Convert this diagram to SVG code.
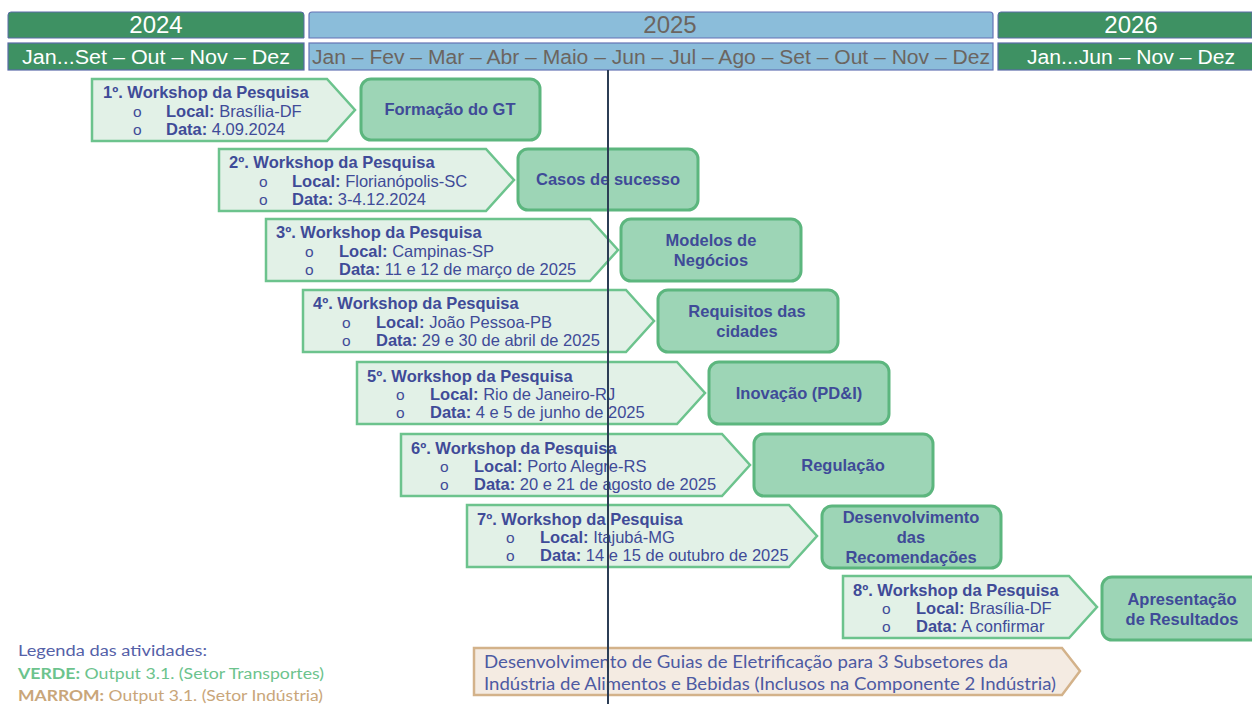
<svg xmlns="http://www.w3.org/2000/svg" width="1252" height="704" viewBox="0 0 1252 704">
<style>
.ws{fill:#e2f1e7;stroke:#6cc38d;stroke-width:2.5}
.bx{fill:#9dd5b6;stroke:#5cb67e;stroke-width:3}
.t{font-family:"Liberation Sans",Arial,sans-serif;fill:#3f4b98}
.tt{font-size:16.5px;font-weight:bold}
.tl{font-size:16.5px}
.b{font-weight:bold}
.bul{font-size:15.5px}
.bt{font-family:"Liberation Sans",Arial,sans-serif;fill:#3f4b98;font-size:16.5px;font-weight:bold;text-anchor:middle}
.hdr{font-family:"Liberation Sans",Arial,sans-serif;text-anchor:middle}
.lg{font-family:Lato,"Open Sans",sans-serif;font-size:15.5px}
</style>
<rect width="1252" height="704" fill="#ffffff"/>

<g id="header">
  <path d="M8,38 V15 Q8,12 11,12 H301 Q304,12 304,15 V38 Z" fill="#3e9163" stroke="#5a6aa8" stroke-width="1"/>
  <path d="M309,38 V15 Q309,12 312,12 H990 Q993,12 993,15 V38 Z" fill="#8bbdda" stroke="#6473b5" stroke-width="1.2"/>
  <path d="M998,38 V15 Q998,12 1001,12 H1252 V38 Z" fill="#3e9163" stroke="#5a6aa8" stroke-width="1"/>
  <text class="hdr" x="156" y="33" font-size="24" fill="#ffffff">2024</text>
  <text class="hdr" x="670" y="33" font-size="24" fill="#6b6560">2025</text>
  <text class="hdr" x="1131" y="33" font-size="24" fill="#ffffff">2026</text>
  <rect x="8" y="43" width="296" height="27" fill="#3e9163" stroke="#5a6aa8" stroke-width="1.2"/>
  <rect x="309" y="43" width="684" height="27" fill="#8bbdda" stroke="#6473b5" stroke-width="1.2"/>
  <rect x="998" y="43" width="258" height="27" fill="#3e9163" stroke="#5a6aa8" stroke-width="1.2"/>
  <text class="hdr" x="156" y="64" font-size="19.5" fill="#ffffff" textLength="268" lengthAdjust="spacingAndGlyphs">Jan...Set – Out – Nov – Dez</text>
  <text class="hdr" x="651" y="64" font-size="19.5" fill="#6b6560" textLength="678" lengthAdjust="spacingAndGlyphs">Jan – Fev – Mar – Abr – Maio – Jun – Jul – Ago – Set – Out – Nov – Dez</text>
  <text class="hdr" x="1131" y="64" font-size="19.5" fill="#ffffff" textLength="208" lengthAdjust="spacingAndGlyphs">Jan...Jun – Nov – Dez</text>
</g>

<g id="ws1">
  <path class="ws" d="M92,79 H327 L355,110 L327,141 H92 Z"/>
  <text class="t tt" x="103" y="98">1º. Workshop da Pesquisa</text>
  <text class="t bul" x="133" y="117">o</text><text class="t tl" x="166" y="117"><tspan class="b">Local:</tspan> Brasília-DF</text>
  <text class="t bul" x="133" y="135">o</text><text class="t tl" x="166" y="135"><tspan class="b">Data:</tspan> 4.09.2024</text>
</g>
<g id="n1"><rect class="bx" x="361" y="79" width="179" height="61" rx="10"/><text class="bt" x="450" y="115">Formação do GT</text></g>

<g id="ws2">
  <path class="ws" d="M219,149 H486 L514,180 L486,211 H219 Z"/>
  <text class="t tt" x="229" y="168">2º. Workshop da Pesquisa</text>
  <text class="t bul" x="259" y="187">o</text><text class="t tl" x="292" y="187"><tspan class="b">Local:</tspan> Florianópolis-SC</text>
  <text class="t bul" x="259" y="205">o</text><text class="t tl" x="292" y="205"><tspan class="b">Data:</tspan> 3-4.12.2024</text>
</g>
<g id="n2"><rect class="bx" x="518" y="149" width="180" height="61" rx="10"/><text class="bt" x="608" y="185">Casos de sucesso</text></g>

<g id="ws3">
  <path class="ws" d="M266,219 H590 L618,250 L590,281 H266 Z"/>
  <text class="t tt" x="276" y="238">3º. Workshop da Pesquisa</text>
  <text class="t bul" x="305" y="257">o</text><text class="t tl" x="339" y="257"><tspan class="b">Local:</tspan> Campinas-SP</text>
  <text class="t bul" x="305" y="275">o</text><text class="t tl" x="339" y="275"><tspan class="b">Data:</tspan> 11 e 12 de março de 2025</text>
</g>
<g id="n3"><rect class="bx" x="621" y="219" width="180" height="62" rx="10"/><text class="bt" x="711" y="246">Modelos de</text><text class="bt" x="711" y="266">Negócios</text></g>

<g id="ws4">
  <path class="ws" d="M303,290 H626 L654,321 L626,352 H303 Z"/>
  <text class="t tt" x="313" y="309">4º. Workshop da Pesquisa</text>
  <text class="t bul" x="342" y="328">o</text><text class="t tl" x="376" y="328"><tspan class="b">Local:</tspan> João Pessoa-PB</text>
  <text class="t bul" x="342" y="346">o</text><text class="t tl" x="376" y="346"><tspan class="b">Data:</tspan> 29 e 30 de abril de 2025</text>
</g>
<g id="n4"><rect class="bx" x="658" y="290" width="180" height="62" rx="10"/><text class="bt" x="747" y="317">Requisitos das</text><text class="bt" x="747" y="337">cidades</text></g>

<g id="ws5">
  <path class="ws" d="M357,362 H677 L705,393 L677,424 H357 Z"/>
  <text class="t tt" x="367" y="382">5º. Workshop da Pesquisa</text>
  <text class="t bul" x="396" y="400">o</text><text class="t tl" x="430" y="400"><tspan class="b">Local:</tspan> Rio de Janeiro-RJ</text>
  <text class="t bul" x="396" y="418">o</text><text class="t tl" x="430" y="418"><tspan class="b">Data:</tspan> 4 e 5 de junho de 2025</text>
</g>
<g id="n5"><rect class="bx" x="709" y="362" width="180" height="62" rx="10"/><text class="bt" x="799" y="399">Inovação (PD&amp;I)</text></g>

<g id="ws6">
  <path class="ws" d="M401,434 H722 L750,465 L722,496 H401 Z"/>
  <text class="t tt" x="411" y="454">6º. Workshop da Pesquisa</text>
  <text class="t bul" x="440" y="472">o</text><text class="t tl" x="474" y="472"><tspan class="b">Local:</tspan> Porto Alegre-RS</text>
  <text class="t bul" x="440" y="490">o</text><text class="t tl" x="474" y="490"><tspan class="b">Data:</tspan> 20 e 21 de agosto de 2025</text>
</g>
<g id="n6"><rect class="bx" x="754" y="434" width="179" height="62" rx="10"/><text class="bt" x="843" y="471">Regulação</text></g>

<g id="ws7">
  <path class="ws" d="M467,505 H789 L817,536 L789,567 H467 Z"/>
  <text class="t tt" x="477" y="525">7º. Workshop da Pesquisa</text>
  <text class="t bul" x="506" y="543">o</text><text class="t tl" x="540" y="543"><tspan class="b">Local:</tspan> Itajubá-MG</text>
  <text class="t bul" x="506" y="561">o</text><text class="t tl" x="540" y="561"><tspan class="b">Data:</tspan> 14 e 15 de outubro de 2025</text>
</g>
<g id="n7"><rect class="bx" x="822" y="506" width="179" height="62" rx="10"/><text class="bt" x="911" y="523">Desenvolvimento</text><text class="bt" x="911" y="543">das</text><text class="bt" x="911" y="563">Recomendações</text></g>

<g id="ws8">
  <path class="ws" d="M843,576 H1069 L1097,607 L1069,638 H843 Z"/>
  <text class="t tt" x="853" y="596">8º. Workshop da Pesquisa</text>
  <text class="t bul" x="882" y="614">o</text><text class="t tl" x="916" y="614"><tspan class="b">Local:</tspan> Brasília-DF</text>
  <text class="t bul" x="882" y="632">o</text><text class="t tl" x="916" y="632"><tspan class="b">Data:</tspan> A confirmar</text>
</g>
<g id="n8"><rect class="bx" x="1102" y="577" width="170" height="63" rx="10"/><text class="bt" x="1182" y="605">Apresentação</text><text class="bt" x="1182" y="625">de Resultados</text></g>

<g id="industria">
  <path d="M474,648 H1062 L1080,671 L1062,695 H474 Z" fill="#f4ebe2" stroke="#d3b28a" stroke-width="2.5"/>
  <text font-family="Lato,'Open Sans',sans-serif" font-size="16.5" fill="#4d5aa2" x="484" y="668" textLength="524" lengthAdjust="spacingAndGlyphs">Desenvolvimento de Guias de Eletrificação para 3 Subsetores da</text>
  <text font-family="Lato,'Open Sans',sans-serif" font-size="16.5" fill="#4d5aa2" x="484" y="690" textLength="572" lengthAdjust="spacingAndGlyphs">Indústria de Alimentos e Bebidas (Inclusos na Componente 2 Indústria)</text>
</g>

<g id="connectors">
  <line x1="608" y1="70" x2="608" y2="704" stroke="#2c3d55" stroke-width="2"/>
</g>

<g id="legenda">
  <text class="lg" x="18" y="656" fill="#5561a8" textLength="189" lengthAdjust="spacingAndGlyphs">Legenda das atividades:</text>
  <text class="lg" x="18" y="679" fill="#6cc38d" textLength="306" lengthAdjust="spacingAndGlyphs"><tspan font-weight="bold">VERDE:</tspan> Output 3.1. (Setor Transportes)</text>
  <text class="lg" x="18" y="701" fill="#c9a67a" textLength="305" lengthAdjust="spacingAndGlyphs"><tspan font-weight="bold">MARROM:</tspan> Output 3.1. (Setor Indústria)</text>
</g>
</svg>
